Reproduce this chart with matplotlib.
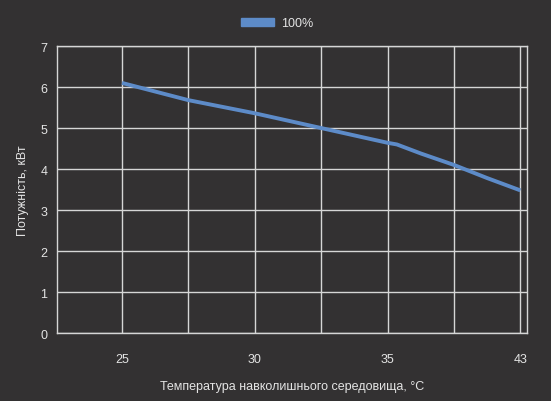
import matplotlib
matplotlib.use("Agg")
import matplotlib.pyplot as plt
from matplotlib.ticker import MultipleLocator
from matplotlib.patches import Patch

plt.rcParams['font.family'] = ['Liberation Sans', 'DejaVu Sans']

# categories on the x axis
temps = ["25", "30", "35", "43"]
# curve at category index positions
pos = [0, 0.5, 1, 1.5, 2, 2.07, 2.25, 2.5, 2.75, 3]
power = [6.10, 5.68, 5.36, 5.00, 4.64, 4.60, 4.38, 4.10, 3.78, 3.48]
series_name = "100%"

bg = "#333132"
fg = "#e4e4e4"
gridc = "#d6d6d6"
blue = "#5d8bc8"

fig = plt.figure(figsize=(5.51, 4.02), dpi=100, facecolor=bg)
ax = fig.add_axes([0.1034, 0.169, 0.853, 0.714], facecolor=bg)

ax.plot(pos, power, color=blue, lw=2.8, solid_capstyle="butt", zorder=3)

ax.set_xlim(-0.49, 3.05)
ax.set_ylim(0, 7)
ax.set_xticks(range(len(temps)))
ax.set_xticklabels(temps)
ax.xaxis.set_minor_locator(MultipleLocator(0.5))
ax.yaxis.set_major_locator(MultipleLocator(1))
ax.grid(True, which="both", axis="x", color=gridc, lw=1)
ax.grid(True, axis="y", color=gridc, lw=1)
ax.tick_params(which="both", length=0, colors=fg, labelsize=9)
ax.tick_params(axis="x", pad=14)
ax.tick_params(axis="y", pad=7)
for s in ax.spines.values():
    s.set_color(gridc)
    s.set_linewidth(1)

ax.set_xlabel("Температура навколишнього середовища, °C", color=fg, fontsize=9, labelpad=11)
ax.set_ylabel("Потужність, кВт", color=fg, fontsize=9, labelpad=8)

leg = fig.legend(handles=[Patch(color=blue, label=series_name)], loc="center",
                 bbox_to_anchor=(0.503, 0.94), frameon=False, fontsize=9,
                 handlelength=2.6, handleheight=0.6, handletextpad=0.6)
for t in leg.get_texts():
    t.set_color(fg)

fig.savefig("out.png", dpi=100, facecolor=bg)
